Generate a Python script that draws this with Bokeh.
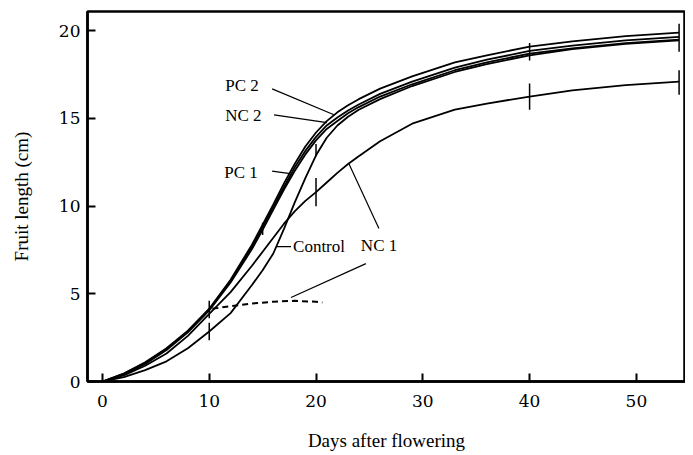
from bokeh.plotting import figure
from bokeh.models import Range1d, FixedTicker, Label
from bokeh.embed import file_html
from bokeh.resources import INLINE

# ---- data ----
days = [0, 2, 4, 6, 8, 10, 12, 14, 15, 16, 17, 18, 19, 20, 21, 22, 23, 24, 26, 29, 33, 36, 40, 44, 49, 54]
pc2 = [0, 0.45, 1.1, 1.9, 2.9, 4.15, 5.8, 7.8, 8.95, 10.1, 11.3, 12.4, 13.4, 14.2, 14.85, 15.35, 15.75, 16.1, 16.7, 17.4, 18.2, 18.6, 19.1, 19.4, 19.7, 19.9]
nc2 = [0, 0.45, 1.05, 1.85, 2.85, 4.1, 5.75, 7.7, 8.8, 9.95, 11.1, 12.2, 13.15, 13.95, 14.6, 15.05, 15.45, 15.8, 16.4, 17.1, 17.9, 18.35, 18.85, 19.15, 19.45, 19.65]
pc1 = [0, 0.4, 1.0, 1.8, 2.8, 4.05, 5.65, 7.55, 8.65, 9.8, 10.95, 12.0, 12.95, 13.75, 14.4, 14.85, 15.3, 15.65, 16.25, 16.95, 17.75, 18.2, 18.7, 19.0, 19.3, 19.5]
control = [0, 0.25, 0.65, 1.15, 1.9, 2.85, 3.9, 5.5, 6.35, 7.3, 8.7, 10.2, 11.6, 12.9, 13.9, 14.6, 15.1, 15.5, 16.1, 16.85, 17.65, 18.1, 18.6, 18.95, 19.25, 19.45]
nc1 = [0, 0.35, 0.9, 1.6, 2.6, 3.85, 5.1, 6.6, 7.4, 8.2, 9.0, 9.7, 10.3, 10.8, 11.35, 11.9, 12.4, 12.85, 13.7, 14.7, 15.5, 15.85, 16.25, 16.6, 16.9, 17.1]

dashed_days = [10.3, 12, 14, 16, 18, 20, 20.6]
dashed_len = [4.15, 4.3, 4.45, 4.55, 4.6, 4.55, 4.5]

eb_day = [10, 10, 15, 20, 20, 40, 40, 54, 54]
eb_mid = [4.1, 2.85, 8.7, 10.8, 13.2, 18.8, 16.25, 19.6, 17.05]
eb_half = [0.5, 0.5, 0.35, 0.8, 0.35, 0.5, 0.75, 0.8, 0.7]

x_ticks = [0, 10, 20, 30, 40, 50]
y_ticks = [0, 5, 10, 15, 20]

# ---- figure ----
p = figure(width=685, height=453,
           x_range=Range1d(-1.4, 54.6), y_range=Range1d(0, 21.1),
           output_backend="svg", toolbar_location=None,
           min_border_left=87, min_border_top=11, min_border_right=0,
           min_border_bottom=60)
p.grid.visible = False
p.outline_line_color = "black"
p.outline_line_width = 2.5
p.background_fill_color = "white"
p.border_fill_color = "white"

serif = "Liberation Serif"
for ax in (p.xaxis[0], p.yaxis[0]):
    ax.axis_line_width = 2.5
    ax.axis_line_color = "black"
    ax.major_tick_in = 8
    ax.major_tick_out = 0
    ax.major_tick_line_width = 2
    ax.minor_tick_line_color = None
    ax.major_label_text_font = "DejaVu Serif"
    ax.major_label_text_font_size = "17px"
    ax.major_label_text_color = "black"
    ax.axis_label_text_font = serif
    ax.axis_label_text_font_size = "19px"
    ax.axis_label_text_font_style = "normal"
    ax.axis_label_text_color = "black"

p.xaxis.ticker = FixedTicker(ticks=x_ticks)
p.yaxis.ticker = FixedTicker(ticks=y_ticks)
p.xaxis.axis_label = "Days after flowering"
p.yaxis.axis_label = "Fruit length (cm)"
p.xaxis.major_label_standoff = 13
p.yaxis.major_label_standoff = 7
p.xaxis.axis_label_standoff = 20
p.yaxis.axis_label_standoff = 24

# ---- curves ----
lw = 1.8
p.line(days, nc1, line_color="black", line_width=lw)
p.line(days, control, line_color="black", line_width=lw)
p.line(days, pc1, line_color="black", line_width=lw)
p.line(days, nc2, line_color="black", line_width=lw)
p.line(days, pc2, line_color="black", line_width=lw)
p.line(dashed_days, dashed_len, line_color="black", line_width=2, line_dash="6 4")

# error bars
p.segment(x0=eb_day, y0=[m - h for m, h in zip(eb_mid, eb_half)],
          x1=eb_day, y1=[m + h for m, h in zip(eb_mid, eb_half)],
          line_color="black", line_width=1.5)

# ---- labels & pointer lines ----
lab_font = "17px"
labels = [("PC 2", 11.5, 16.87), ("NC 2", 11.5, 15.16), ("PC 1", 11.4, 11.91),
          ("Control", 17.85, 7.69), ("NC 1", 24.2, 7.75)]
for t, x, y in labels:
    p.add_layout(Label(x=x, y=y, text=t, text_font=serif, text_font_size=lab_font,
                       text_baseline="middle", text_align="left", text_color="black"))

ptr_x0 = [15.89, 16.07, 15.89, 16.26, 25.89, 24.67]
ptr_y0 = [16.69, 15.21, 12.0, 7.69, 8.72, 6.72]
ptr_x1 = [21.68, 21.03, 17.57, 17.66, 23.08, 17.66]
ptr_y1 = [15.21, 14.76, 11.85, 7.69, 12.42, 4.79]
p.segment(x0=ptr_x0, y0=ptr_y0, x1=ptr_x1, y1=ptr_y1, line_color="black", line_width=1.2)

open("out.html", "w").write(file_html(p, INLINE))
